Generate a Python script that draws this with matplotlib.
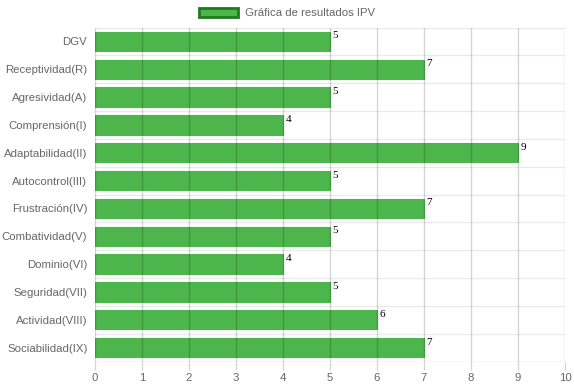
import matplotlib.pyplot as plt
from matplotlib.patches import Patch

# Data
categories = ['DGV', 'Receptividad(R)', 'Agresividad(A)', 'Comprensión(I)',
              'Adaptabilidad(II)', 'Autocontrol(III)', 'Frustración(IV)',
              'Combatividad(V)', 'Dominio(VI)', 'Seguridad(VII)',
              'Actividad(VIII)', 'Sociabilidad(IX)']
values = [5, 7, 5, 4, 9, 5, 7, 5, 4, 5, 6, 7]
x_ticks = list(range(0, 11))
legend_label = 'Gráfica de resultados IPV'

plt.rcParams['font.family'] = ['Liberation Sans', 'DejaVu Sans']

fill = '#4cb54c'
tick_color = '#666666'
grid_dark = (0, 0, 0, 0.17)
grid_light = (0, 0, 0, 0.08)

fig = plt.figure(figsize=(5.74, 3.86), dpi=100)
ax = fig.add_axes([95 / 574, 1 - 361.5 / 386, 470 / 574, 334 / 386])

pos = list(range(len(categories)))
ax.barh(pos, values, height=0.7, color=fill, edgecolor=fill, linewidth=0.8, zorder=2)

# value labels
for p, v in zip(pos, values):
    ax.text(v + 0.05, p - 0.2, str(v), fontsize=8, family='Liberation Serif',
            color='black', va='center', ha='left', zorder=4)

ax.set_xlim(0, 10)
ax.set_ylim(len(categories) - 0.5, -0.5)
ax.set_xticks(x_ticks)
ax.set_yticks(pos)
ax.set_yticklabels(categories)

# vertical gridlines, drawn over the bars like the original
for x in x_ticks:
    ax.axvline(x, color=grid_dark, linewidth=1, zorder=3)
# horizontal category boundary lines
for b in [p - 0.5 for p in pos]:
    ax.axhline(b, color=grid_light, linewidth=1, zorder=1)
ax.axhline(len(categories) - 0.5, color=grid_dark, linewidth=1, zorder=3)

for s in ax.spines.values():
    s.set_visible(False)

ax.tick_params(axis='x', colors=grid_dark, labelcolor=tick_color, labelsize=8.2, length=6, width=1, pad=2)
ax.tick_params(axis='y', length=0, labelcolor=tick_color, labelsize=8.2, pad=5.5)

handle = Patch(facecolor=fill, edgecolor='#1f7a1f', linewidth=2)
fig.legend([handle], [legend_label], loc='center', bbox_to_anchor=(0.5, 1 - 13 / 386),
           frameon=False, fontsize=8.2, labelcolor=tick_color, handlelength=3.4, handleheight=0.95,
           handletextpad=0.6)

fig.savefig('out.png', dpi=100)
